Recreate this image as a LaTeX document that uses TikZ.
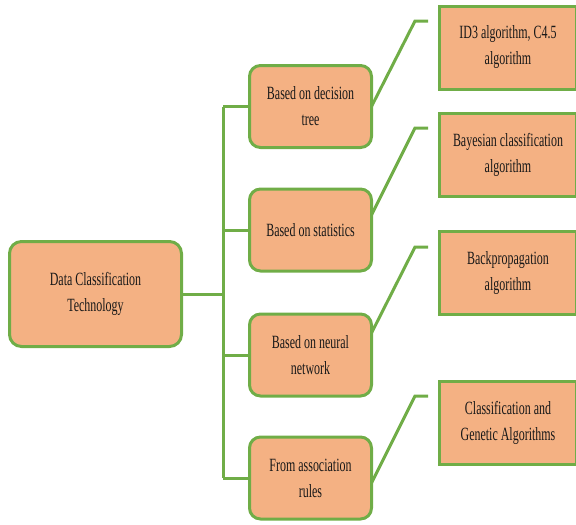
\documentclass[tikz,border=0pt]{standalone}
\usepackage{fontspec}
\newfontfamily\boxfont{Liberation Serif}[FakeStretch=0.64]
\definecolor{leaf}{HTML}{70AD47}
\definecolor{peach}{HTML}{F4B183}
\begin{document}
\begin{tikzpicture}[x=1pt,y=-1pt,
  box/.style={draw=leaf, fill=peach, line width=3pt, align=center, inner sep=2pt,
    font=\boxfont\fontsize{18.7}{26}\selectfont, text=black!90},
  rootbox/.style={box, rounded corners=12pt, minimum width=172pt, minimum height=105pt},
  midbox/.style={box, rounded corners=11pt, minimum width=122pt, minimum height=82pt},
  leafbox/.style={box, minimum width=137pt, minimum height=83pt},
  conn/.style={draw=leaf, line width=3pt}]
\useasboundingbox (0,0) rectangle (576,525);
\clip (0,0) rectangle (576,525);

% trunk position and bend points of the right-hand connectors
\coordinate (tr) at (223,294);
\coordinate (k1) at (415,21);
\coordinate (k2) at (415,128);
\coordinate (k3) at (415,247);
\coordinate (k4) at (415,396);

% boxes
\node[rootbox] (root) at (95.5,294) {Data Classification\\Technology};

\node[midbox] (m1) at (310.5,106.5) {Based on decision\\tree};
\node[midbox] (m2) at (310.5,230) {Based on statistics};
\node[midbox] (m3) at (310.5,355) {Based on neural\\network};
\node[midbox] (m4) at (310.5,478) {From association\\rules};

\node[leafbox] (r1) at (508,47.5) {ID3 algorithm, C4.5\\algorithm};
\node[leafbox] (r2) at (508,155) {Bayesian classification\\algorithm};
\node[leafbox] (r3) at (508,273) {Backpropagation\\algorithm};
\node[leafbox] (r4) at (508,423) {Classification and\\Genetic Algorithms};

% root to trunk, trunk, trunk to middle boxes
\draw[conn] (root.east) -- (root.east -| tr);
\draw[conn] (m1.west -| tr) -- (m4.west -| tr);
\draw[conn] (m1.west) -- (m1.west -| tr);
\draw[conn] (m2.west) -- (m2.west -| tr);
\draw[conn] (m3.west) -- (m3.west -| tr);
\draw[conn] (m4.west) -- (m4.west -| tr);

% middle boxes to right-hand boxes
\draw[conn, shorten >=10pt] ([xshift=-1.5pt]m1.east) -- (k1) -- (k1 -| r1.west);
\draw[conn, shorten >=10pt] ([xshift=-1.5pt,yshift=15pt]m2.east) -- (k2) -- (k2 -| r2.west);
\draw[conn, shorten >=10pt] ([xshift=-1.5pt,yshift=22pt]m3.east) -- (k3) -- (k3 -| r3.west);
\draw[conn, shorten >=10pt] ([xshift=-1.5pt,yshift=-5pt]m4.east) -- (k4) -- (k4 -| r4.west);
\end{tikzpicture}
\end{document}
